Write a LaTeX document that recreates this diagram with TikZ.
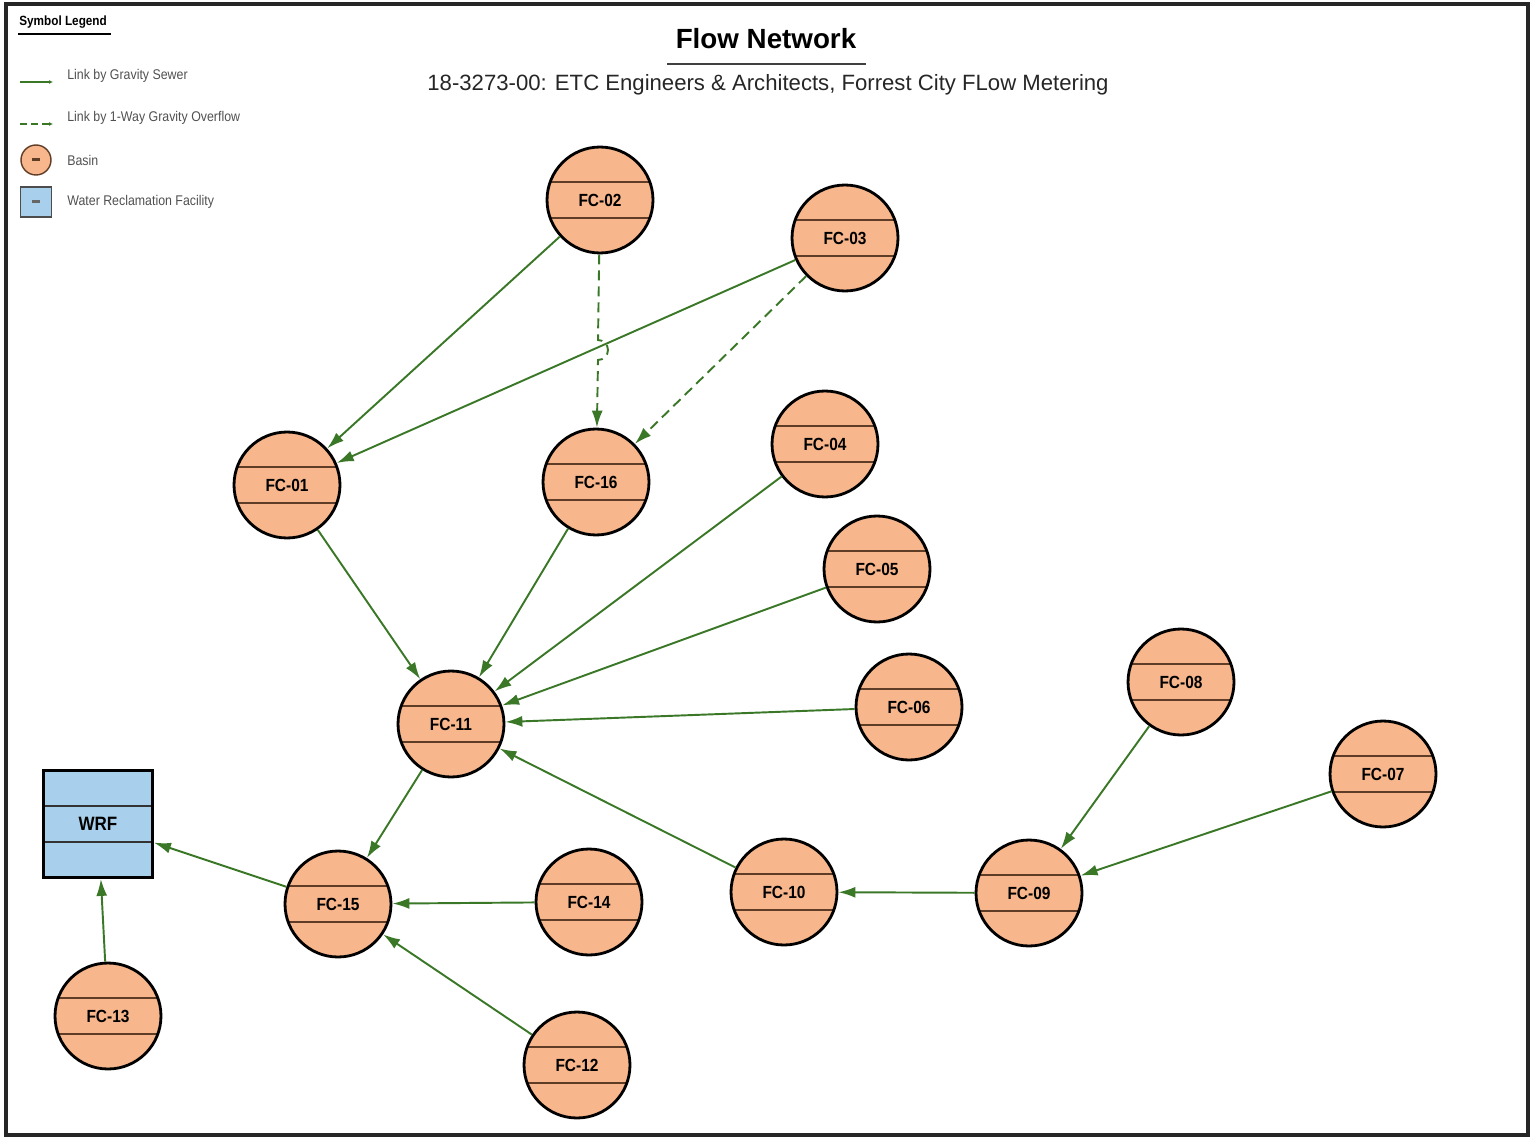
\documentclass[tikz,border=0pt]{standalone}
\usepackage{fontspec}
\setmainfont{Liberation Sans}
\newfontfamily\labelfont[FakeStretch=0.88]{Liberation Sans}
\usetikzlibrary{arrows.meta}
\definecolor{flowPeach}{RGB}{247,182,139}
\definecolor{flowBrown}{RGB}{95,60,38}
\definecolor{flowBlue}{RGB}{168,208,236}
\definecolor{flowGreen}{RGB}{58,120,40}
\definecolor{flowGray}{RGB}{80,80,80}

\begin{document}
\begin{tikzpicture}[
  x=0.02cm,y=-0.02cm,
  basin/.style={
    circle,
    draw=black,
    line width=1.6pt,
    fill=flowPeach,
    minimum size=2.12cm,
    inner sep=0pt,
    font=\labelfont\fontsize{10}{12}\selectfont\bfseries,
    path picture={
      \draw[flowBrown,line width=0.9pt]
        ([yshift=0.36cm]path picture bounding box.west) -- ([yshift=0.36cm]path picture bounding box.east)
        ([yshift=-0.36cm]path picture bounding box.west) -- ([yshift=-0.36cm]path picture bounding box.east);
    }
  },
  plant/.style={
    rectangle,
    draw=black,
    line width=1.6pt,
    fill=flowBlue,
    minimum width=2.18cm,
    minimum height=2.14cm,
    inner sep=0pt,
    font=\labelfont\fontsize{11}{13}\selectfont\bfseries,
    path picture={
      \draw[black!80,line width=0.9pt]
        ([yshift=0.36cm]path picture bounding box.west) -- ([yshift=0.36cm]path picture bounding box.east)
        ([yshift=-0.36cm]path picture bounding box.west) -- ([yshift=-0.36cm]path picture bounding box.east);
    }
  },
  sewer/.style={-{Latex[length=0.34cm,width=0.22cm]},line width=1.1pt,flowGreen},
  overflow/.style={sewer,dash pattern=on 0.2cm off 0.12cm},
  legtext/.style={anchor=west,inner sep=0pt,text=flowGray,font=\labelfont\fontsize{8}{9.6}\selectfont}
]
  \useasboundingbox (0,0) rectangle (1533,1138);
  \draw[line width=1.8pt,black!85] (6,4) rectangle (1528,1135);

  % legend
  \node[anchor=west,inner sep=0pt,font=\labelfont\fontsize{7.6}{9}\selectfont\bfseries] (legtitle) at (19,22) {Symbol Legend};
  \draw[line width=1.3pt] (18,34) -- (111,34);
  \coordinate (sewerA) at (20,82);
  \coordinate (sewerB) at (53,82);
  \draw[flowGreen,line width=1.1pt,-{Latex[length=0.08cm,width=0.08cm]}] (sewerA) -- (sewerB);
  \node[legtext] (legsewer) at (67,76) {Link by Gravity Sewer};
  \coordinate (overA) at (20,124);
  \coordinate (overB) at (53,124);
  \draw[flowGreen,line width=1.1pt,dash pattern=on 0.14cm off 0.08cm,-{Latex[length=0.08cm,width=0.08cm]}] (overA) -- (overB);
  \node[legtext] (legover) at (67,118) {Link by 1-Way Gravity Overflow};
  \node[circle,draw=flowBrown,line width=0.8pt,fill=flowPeach,minimum size=0.6cm,inner sep=0pt] (legbasin) at (36,160) {};
  \fill[flowBrown] (32,158.5) rectangle (40,161.5);
  \node[legtext] (legbasintext) at (67,160) {Basin};
  \node[rectangle,draw=black!70,line width=0.8pt,fill=flowBlue,minimum width=0.62cm,minimum height=0.6cm,inner sep=0pt] (legplant) at (36,202) {};
  \fill[black!60] (32,200.5) rectangle (40,203.5);
  \node[legtext] (legplanttext) at (67,202) {Water Reclamation Facility};

  % title
  \node[font=\fontsize{15.8}{19}\selectfont\bfseries] (title) at (766,39) {Flow Network};
  \draw[black!75,line width=0.7pt] (667,64) -- (866,64);
  \node[font=\fontsize{12.6}{15}\selectfont,text=black!85] (subtitle) at (768,85) {18-3273-00: ETC Engineers \& Architects, Forrest City FLow Metering};

  % basins
  \node[basin] (fc02) at (600,200) {FC-02};
  \node[basin] (fc03) at (845,238) {FC-03};
  \node[basin] (fc01) at (287,485) {FC-01};
  \node[basin] (fc16) at (596,482) {FC-16};
  \node[basin] (fc04) at (825,444) {FC-04};
  \node[basin] (fc05) at (877,569) {FC-05};
  \node[basin] (fc06) at (909,707) {FC-06};
  \node[basin] (fc08) at (1181,682) {FC-08};
  \node[basin] (fc07) at (1383,774) {FC-07};
  \node[basin] (fc11) at (451,724) {FC-11};
  \node[basin] (fc09) at (1029,893) {FC-09};
  \node[basin] (fc10) at (784,892) {FC-10};
  \node[basin] (fc14) at (589,902) {FC-14};
  \node[basin] (fc15) at (338,904) {FC-15};
  \node[basin] (fc12) at (577,1065) {FC-12};
  \node[basin] (fc13) at (108,1016) {FC-13};
  \node[plant] (wrf) at (98,824) {WRF};

  % links
  \draw[sewer] (fc02) -- (fc01);
  \draw[sewer] (fc03) -- (fc01);
  \coordinate (hop) at (598,340);
  \draw[overflow] (fc02) -- (hop) arc[start angle=-90,end angle=90,radius=10] -- (fc16);
  \draw[overflow] (fc03) -- (fc16);
  \draw[sewer] (fc01) -- (fc11);
  \draw[sewer] (fc16) -- (fc11);
  \draw[sewer] (fc04) -- (fc11);
  \draw[sewer] (fc05) -- (fc11);
  \draw[sewer] (fc06) -- (fc11);
  \draw[sewer] (fc10) -- (fc11);
  \draw[sewer] (fc11) -- (fc15);
  \draw[sewer] (fc14) -- (fc15);
  \draw[sewer] (fc12) -- (fc15);
  \draw[sewer] (fc15) -- (wrf);
  \draw[sewer] (fc13) -- (wrf);
  \draw[sewer] (fc08) -- (fc09);
  \draw[sewer] (fc07) -- (fc09);
  \draw[sewer] (fc09) -- (fc10);
\end{tikzpicture}
\end{document}
